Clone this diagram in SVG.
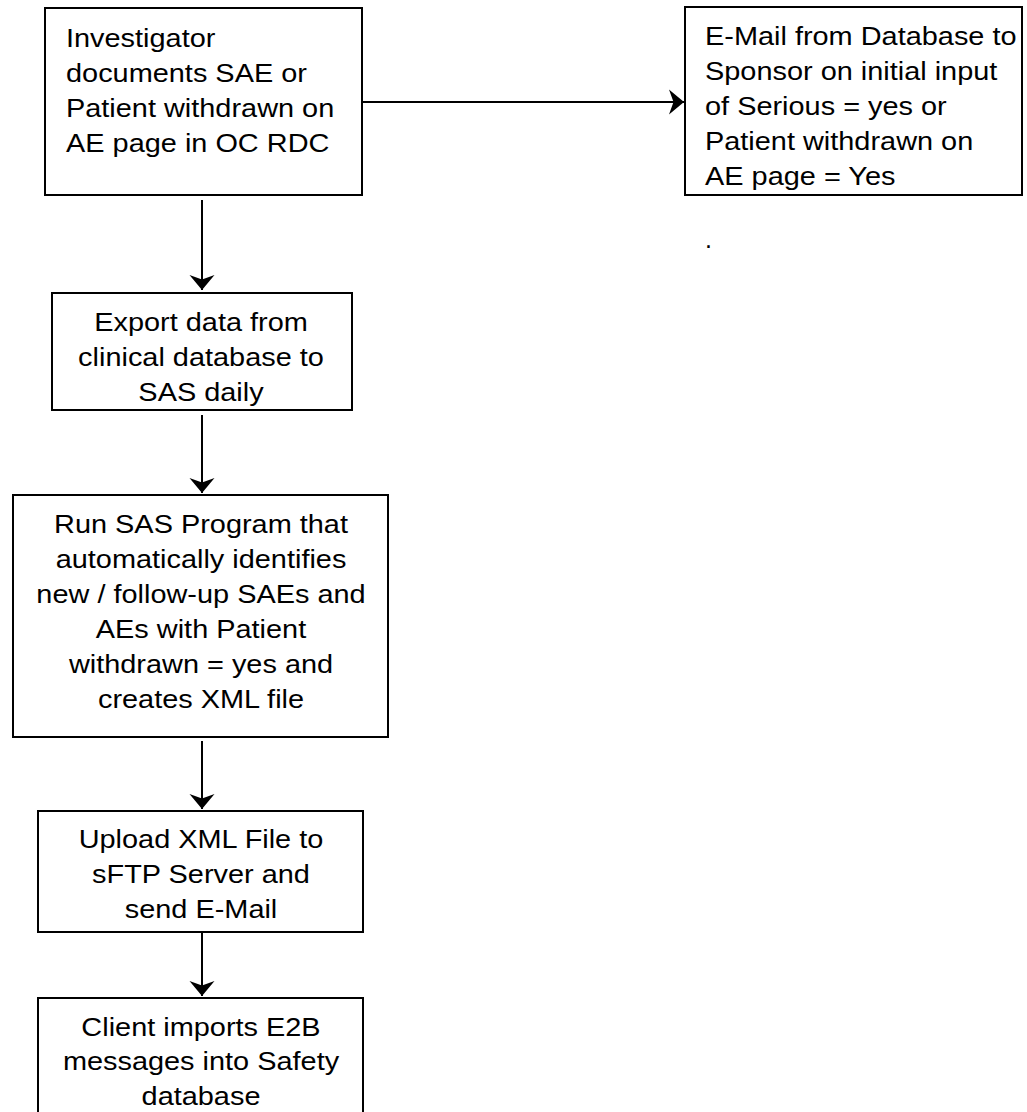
<svg xmlns="http://www.w3.org/2000/svg" width="1027" height="1112" viewBox="0 0 1027 1112">
<style>
.box{fill:#fff;stroke:#000;stroke-width:2}
.t{font-family:"Liberation Sans",Arial,sans-serif;font-size:25px;fill:#000}
.c{text-anchor:middle}
.conn{stroke:#000;stroke-width:2;fill:none;marker-end:url(#ah)}
</style>
<defs>
<marker id="ah" viewBox="-16 -13 17 26" refX="0" refY="0" markerWidth="17" markerHeight="26" orient="auto" markerUnits="userSpaceOnUse">
<path d="M0,0 L-15,-12.5 L-10.5,0 L-15,12.5 Z" fill="#000"/>
</marker>
</defs>
<rect width="1027" height="1112" fill="#fff"/>
<g id="connectors">
<line class="conn" x1="362" y1="102" x2="684" y2="102"/>
<line class="conn" x1="202" y1="200" x2="202" y2="290"/>
<line class="conn" x1="202" y1="415" x2="202" y2="493"/>
<line class="conn" x1="202" y1="741" x2="202" y2="809"/>
<line class="conn" x1="202" y1="932" x2="202" y2="996"/>
</g>
<g id="n1">
<rect class="box" x="45" y="8" width="317" height="187"/>
<g transform="translate(66,0) scale(1.156,1)">
<text class="t" x="0" y="47">Investigator</text>
<text class="t" x="0" y="82">documents SAE or</text>
<text class="t" x="0" y="117">Patient withdrawn on</text>
<text class="t" x="0" y="152">AE page in OC RDC</text>
</g>
</g>
<g id="n2">
<rect class="box" x="685" y="7" width="337" height="188"/>
<g transform="translate(705,0) scale(1.156,1)">
<text class="t" x="0" y="45">E-Mail from Database to</text>
<text class="t" x="0" y="80">Sponsor on initial input</text>
<text class="t" x="0" y="115">of Serious = yes or</text>
<text class="t" x="0" y="150">Patient withdrawn on</text>
<text class="t" x="0" y="185">AE page = Yes</text>
</g>
</g>
<g id="dot">
<text class="t" x="705" y="248">.</text>
</g>
<g id="n3">
<rect class="box" x="52" y="293" width="300" height="117"/>
<g transform="translate(201,0) scale(1.156,1)">
<text class="t c" x="0" y="331">Export data from</text>
<text class="t c" x="0" y="366">clinical database to</text>
<text class="t c" x="0" y="401">SAS daily</text>
</g>
</g>
<g id="n4">
<rect class="box" x="13" y="495" width="375" height="242"/>
<g transform="translate(201,0) scale(1.156,1)">
<text class="t c" x="0" y="533">Run SAS Program that</text>
<text class="t c" x="0" y="568">automatically identifies</text>
<text class="t c" x="0" y="603">new / follow-up SAEs and</text>
<text class="t c" x="0" y="638">AEs with Patient</text>
<text class="t c" x="0" y="673">withdrawn = yes and</text>
<text class="t c" x="0" y="708">creates XML file</text>
</g>
</g>
<g id="n5">
<rect class="box" x="38" y="811" width="325" height="121"/>
<g transform="translate(201,0) scale(1.156,1)">
<text class="t c" x="0" y="848">Upload XML File to</text>
<text class="t c" x="0" y="883">sFTP Server and</text>
<text class="t c" x="0" y="918">send E-Mail</text>
</g>
</g>
<g id="n6">
<rect class="box" x="38" y="998" width="325" height="125"/>
<g transform="translate(201,0) scale(1.156,1)">
<text class="t c" x="0" y="1036">Client imports E2B</text>
<text class="t c" x="0" y="1070">messages into Safety</text>
<text class="t c" x="0" y="1105">database</text>
</g>
</g>
</svg>
